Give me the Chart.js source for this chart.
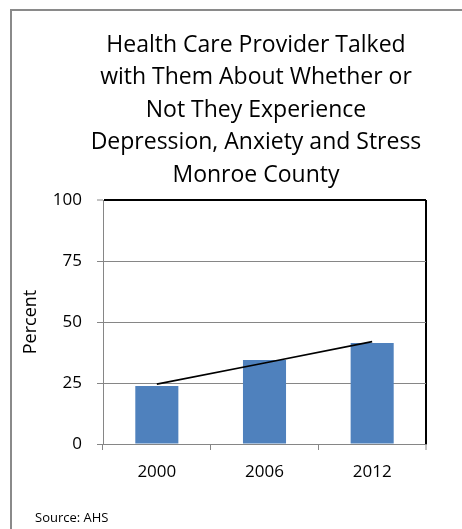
<!DOCTYPE html>
<html>
<head>
<meta charset="utf-8">
<script src="https://cdn.jsdelivr.net/npm/chart.js@4"></script>
<style>
  html, body { margin: 0; padding: 0; overflow: hidden; background: #fff; }
  canvas { display: block; }
</style>
</head>
<body>
<canvas id="c" width="512" height="529"></canvas>
<script>
// ---- data ----
const years = ['2000', '2006', '2012'];
const percentValues = [23.8, 34.4, 41.4];
const trendValues = [24.5, 33.2, 42.0];
const yTicks = [0, 25, 50, 75, 100];
const titleLines = [
  'Health Care Provider Talked',
  'with Them About Whether or',
  'Not They Experience',
  'Depression, Anxiety and Stress',
  'Monroe County'
];
const yAxisTitle = 'Percent';
const sourceNote = 'Source: AHS';

Chart.defaults.font.family = "'Open Sans', 'Noto Sans', sans-serif";
Chart.defaults.color = '#000';

const GREY = '#868686';

const framePlugin = {
  id: 'frame',
  beforeDraw(chart) {
    const ctx = chart.ctx;
    ctx.save();
    ctx.fillStyle = '#fff';
    ctx.fillRect(0, 0, chart.width, chart.height);
    ctx.fillStyle = '#8a8a8a';
    ctx.fillRect(10, 9, 2, chart.height);
    ctx.fillRect(10, 9, chart.width, 2);
    ctx.restore();
  },
  afterDraw(chart) {
    const ctx = chart.ctx;
    ctx.save();
    ctx.font = "13px 'Open Sans'";
    ctx.fillStyle = '#000';
    ctx.textAlign = 'left';
    ctx.textBaseline = 'alphabetic';
    ctx.fillText(sourceNote, 35, 521.5);
    ctx.restore();
  }
};

new Chart(document.getElementById('c'), {
  type: 'bar',
  data: {
    labels: years,
    datasets: [
      {
        type: 'line',
        data: trendValues,
        borderColor: '#000',
        borderWidth: 1.75,
        pointRadius: 0,
        tension: 0,
        fill: false,
        order: 0
      },
      {
        type: 'bar',
        data: percentValues,
        backgroundColor: '#4F81BD',
        borderWidth: 0,
        categoryPercentage: 1,
        barPercentage: 0.4,
        order: 1
      }
    ]
  },
  options: {
    responsive: false,
    animation: false,
    layout: { padding: 0 },
    plugins: {
      legend: { display: false },
      tooltip: { enabled: false },
      title: {
        display: true,
        text: titleLines,
        align: 'center',
        color: '#000',
        font: { size: 23, weight: 'normal', lineHeight: '32.5px' },
        padding: { top: 29, bottom: 8.5 }
      }
    },
    scales: {
      x: {
        offset: true,
        grid: {
          offset: true,
          drawOnChartArea: true,
          color: (c) => c.type === 'tick' ? 'rgba(0,0,0,0)' : '#000',
          lineWidth: (c) => c.type === 'tick' ? 1 : 2,
          tickColor: GREY,
          tickWidth: 1,
          tickLength: 6
        },
        border: { display: true, color: GREY, width: 1 },
        ticks: { font: { size: 17 }, padding: 12, maxRotation: 0 },
        afterFit: (s) => { s.height = 85; }
      },
      y: {
        min: 0,
        max: 100,
        afterBuildTicks: (s) => { s.ticks = yTicks.map(v => ({ value: v })); },
        grid: {
          color: (c) => (c.tick && c.tick.value === 100) ? '#000' : GREY,
          lineWidth: (c) => (c.tick && c.tick.value === 100) ? 2 : 1,
          tickColor: GREY,
          tickWidth: 1,
          tickLength: 6
        },
        border: { display: true, color: GREY, width: 1 },
        ticks: { font: { size: 17 }, padding: 15 },
        title: {
          display: true,
          text: yAxisTitle,
          font: { size: 18 },
          padding: { top: 20, bottom: 0 }
        },
        afterFit: (s) => { s.width = 103; }
      },
      yPad: {
        type: 'linear',
        position: 'right',
        display: true,
        grid: { display: false, drawOnChartArea: false },
        ticks: { display: false },
        border: { display: false },
        afterFit: (s) => { s.width = 86; }
      }
    }
  },
  plugins: [framePlugin]
});
</script>
</body>
</html>
